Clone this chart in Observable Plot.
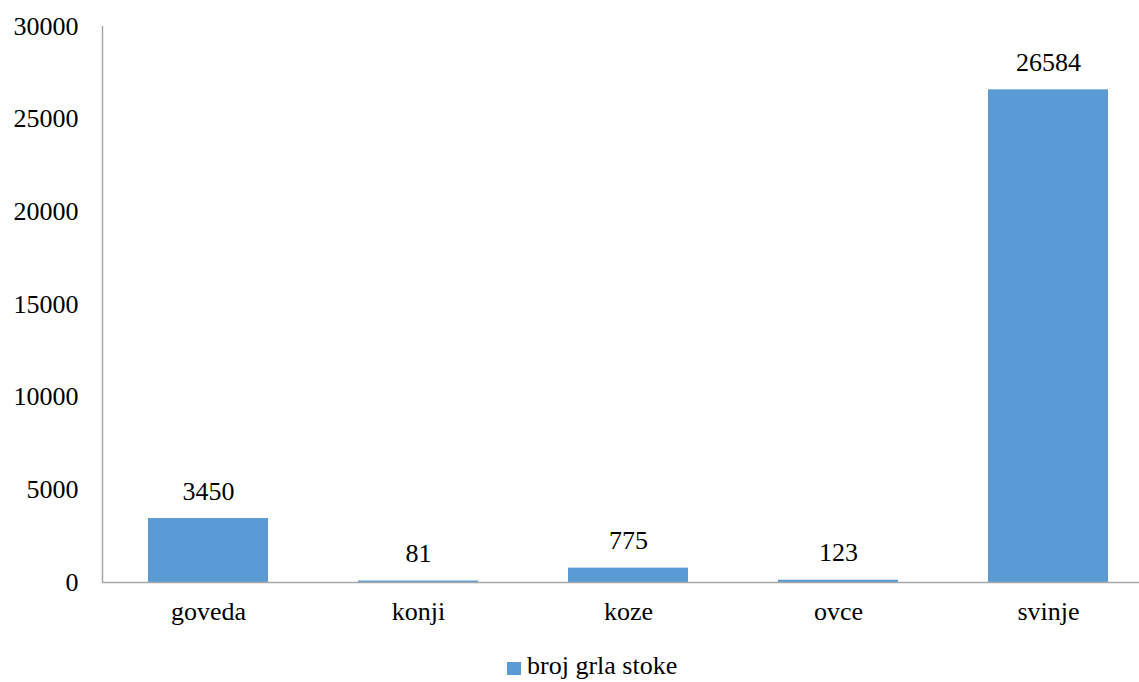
<!DOCTYPE html>
<html>
<head>
<meta charset="utf-8">
<script src="https://cdn.jsdelivr.net/npm/d3@7"></script>
<script src="https://cdn.jsdelivr.net/npm/@observablehq/plot@0.6"></script>
<style>
  body { margin: 0; background: #fff; font-family: "Liberation Serif", "Times New Roman", serif; position: relative; width: 1139px; height: 682px; overflow: hidden; }
  #chart { position: absolute; left: 0; top: 0; }
  #legend { position: absolute; left: 507px; top: 653px; height: 26px; line-height: 26px; font-size: 26px; color: #000; white-space: nowrap; }
  #legend .sw { position: absolute; left: 0; top: 9px; width: 14px; height: 13px; background: #5b9bd5; }
  #legend .lbl { position: absolute; left: 20px; top: 0; }
</style>
</head>
<body>
<div id="chart"></div>
<div id="legend"><span class="sw"></span><span class="lbl" id="legendLabel"></span></div>
<script>
const categories = ["goveda", "konji", "koze", "ovce", "svinje"];
const values = [3450, 81, 775, 123, 26584];
const yTicks = [0, 5000, 10000, 15000, 20000, 25000, 30000];
const seriesName = "broj grla stoke";

const data = categories.map((c, i) => ({category: c, value: values[i]}));
const FONT = "'Liberation Serif', 'Times New Roman', serif";

const chart = Plot.plot({
  width: 1139,
  height: 645,
  marginLeft: 102,
  marginRight: 0,
  marginTop: 26,
  marginBottom: 63,
  style: `font-family: ${FONT}; font-size: 26px; color: #000; background: transparent;`,
  x: {domain: categories, range: [102, 1153], paddingInner: 0.43, paddingOuter: 0.215, label: null},
  y: {domain: [0, 30000], label: null},
  marks: [
    Plot.barY(data, {x: "category", y: "value", fill: "#5b9bd5"}),
    Plot.ruleY([0], {stroke: "#a6a6a6", strokeWidth: 1.5}),
    Plot.axisY({ticks: yTicks, tickSize: 0, tickPadding: 24, label: null, tickFormat: d => String(d), fontSize: 26, fontFamily: FONT}),
    Plot.axisX({tickSize: 0, tickPadding: 19, label: null, fontSize: 26, fontFamily: FONT}),
    Plot.text(data, {x: "category", y: "value", text: d => String(d.value), lineAnchor: "bottom", dy: -19, fontSize: 26, fontFamily: FONT, fill: "#000"})
  ]
});

const svg = d3.select(chart);
svg.append("line")
  .attr("x1", 102.5).attr("x2", 102.5)
  .attr("y1", 26).attr("y2", 582)
  .attr("stroke", "#a6a6a6").attr("stroke-width", 1.5);

document.getElementById("chart").appendChild(chart);
document.getElementById("legendLabel").textContent = seriesName;
</script>
</body>
</html>
